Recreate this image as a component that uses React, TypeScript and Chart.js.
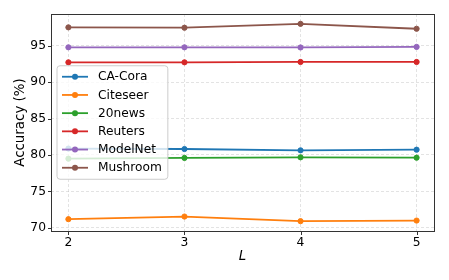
import React, { useEffect, useRef } from "react";
import { Chart, registerables } from "chart.js";

Chart.register(...registerables);

const lValues = [2, 3, 4, 5];
const seriesNames = ["CA-Cora", "Citeseer", "20news", "Reuters", "ModelNet", "Mushroom"];
const caCora = [80.88, 80.82, 80.64, 80.73];
const citeseer = [71.19, 71.55, 70.92, 71.0];
const news20 = [79.5, 79.6, 79.68, 79.63];
const reuters = [92.72, 92.72, 92.77, 92.77];
const modelNet = [94.78, 94.78, 94.76, 94.84];
const mushroom = [97.52, 97.47, 98.0, 97.33];
const yTickValues = [70, 75, 80, 85, 90, 95];
const xTickValues = [2, 3, 4, 5];
const colors = ["#1f77b4", "#ff7f0e", "#2ca02c", "#d62728", "#9467bd", "#8c564b"];

const allSeries = [caCora, citeseer, news20, reuters, modelNet, mushroom];
const FONT = "'DejaVu Sans', sans-serif";

function margins(vals: number[]) {
  const mn = Math.min(...vals);
  const mx = Math.max(...vals);
  const m = (mx - mn) * 0.05;
  return [mn - m, mx + m];
}

const framePlugin = {
  id: "framePlugin",
  afterDraw(chart: any) {
    const { ctx, chartArea: ca } = chart;
    const xs = chart.scales.x;
    const ys = chart.scales.y;
    ctx.save();
    ctx.strokeStyle = "#333";
    ctx.lineWidth = 1;
    ctx.strokeRect(Math.round(ca.left) + 0.5, Math.round(ca.top) + 0.5, Math.round(ca.right - ca.left), Math.round(ca.bottom - ca.top));
    ctx.beginPath();
    xTickValues.forEach((v) => {
      const px = Math.round(xs.getPixelForValue(v)) + 0.5;
      ctx.moveTo(px, Math.round(ca.bottom) + 0.5);
      ctx.lineTo(px, Math.round(ca.bottom) + 4);
    });
    yTickValues.forEach((v) => {
      const py = Math.round(ys.getPixelForValue(v)) + 0.5;
      ctx.moveTo(Math.round(ca.left) + 0.5, py);
      ctx.lineTo(Math.round(ca.left) - 3, py);
    });
    ctx.stroke();

    // legend
    ctx.font = `12.2px ${FONT}`;
    const labels = chart.data.datasets.map((d: any) => d.label);
    const maxW = Math.max(...labels.map((t: string) => ctx.measureText(t).width));
    const rowH = 18.2;
    const boxLeft = ca.left + 6;
    const boxH = 113.5;
    const boxTop = (ca.top + ca.bottom) / 2 - boxH / 2;
    const textX = boxLeft + 41;
    const boxW = textX + maxW + 6 - boxLeft;
    const r = 3;
    ctx.beginPath();
    ctx.moveTo(boxLeft + r, boxTop);
    ctx.arcTo(boxLeft + boxW, boxTop, boxLeft + boxW, boxTop + boxH, r);
    ctx.arcTo(boxLeft + boxW, boxTop + boxH, boxLeft, boxTop + boxH, r);
    ctx.arcTo(boxLeft, boxTop + boxH, boxLeft, boxTop, r);
    ctx.arcTo(boxLeft, boxTop, boxLeft + boxW, boxTop, r);
    ctx.closePath();
    ctx.fillStyle = "rgba(255,255,255,0.8)";
    ctx.fill();
    ctx.strokeStyle = "#cccccc";
    ctx.lineWidth = 1;
    ctx.stroke();

    chart.data.datasets.forEach((d: any, i: number) => {
      const cy = boxTop + 11 + i * rowH;
      ctx.strokeStyle = d.borderColor;
      ctx.lineWidth = 1.8;
      ctx.beginPath();
      ctx.moveTo(boxLeft + 5, cy);
      ctx.lineTo(boxLeft + 31, cy);
      ctx.stroke();
      ctx.fillStyle = d.borderColor;
      ctx.beginPath();
      ctx.arc(boxLeft + 18, cy, 3, 0, Math.PI * 2);
      ctx.fill();
      ctx.fillStyle = "#000";
      ctx.textBaseline = "middle";
      ctx.textAlign = "left";
      ctx.fillText(d.label, textX, cy + 0.5);
    });
    ctx.restore();
  },
};

export default function App() {
  const ref = useRef<HTMLCanvasElement | null>(null);
  useEffect(() => {
    if (!ref.current) return;
    const [ymin, ymax] = margins(allSeries.flat());
    const [xmin, xmax] = margins(lValues);
    const grid = {
      display: true,
      color: "rgba(176,176,176,0.45)",
      lineWidth: 0.8,
      drawTicks: false,
      drawOnChartArea: true,
    };
    const chart = new Chart(ref.current, {
      type: "line",
      data: {
        datasets: allSeries.map((s, i) => ({
          label: seriesNames[i],
          data: s.map((v, j) => ({ x: lValues[j], y: v })),
          borderColor: colors[i],
          backgroundColor: colors[i],
          pointBackgroundColor: colors[i],
          pointBorderColor: colors[i],
          borderWidth: 1.8,
          pointRadius: 2.6,
          pointBorderWidth: 1,
          fill: false,
          tension: 0,
          order: allSeries.length - i,
        })),
      },
      options: {
        animation: false,
        responsive: false,
        layout: { padding: { top: 14, right: 15, left: 0, bottom: 0 } },
        plugins: { legend: { display: false }, tooltip: { enabled: false } },
        scales: {
          x: {
            type: "linear",
            min: xmin,
            max: xmax,
            grid: { ...grid },
            border: { display: false, dash: [3, 2] },
            afterBuildTicks: (s: any) => {
              s.ticks = xTickValues.map((v) => ({ value: v }));
            },
            afterFit: (s: any) => {
              s.height = 49;
            },
            ticks: {
              padding: 4,
              color: "#000",
              font: { family: FONT, size: 12.3 },
              maxRotation: 0,
              callback: (v: any) => String(v),
            },
            title: {
              display: true,
              text: "L",
              color: "#000",
              font: { family: FONT, size: 13.4, style: "italic" },
              padding: { top: 0, bottom: 15 },
            },
          },
          y: {
            type: "linear",
            min: ymin,
            max: ymax,
            grid: { ...grid },
            border: { display: false, dash: [3, 2] },
            afterBuildTicks: (s: any) => {
              s.ticks = yTickValues.map((v) => ({ value: v }));
            },
            afterFit: (s: any) => {
              s.width = 51;
            },
            ticks: {
              padding: 5,
              color: "#000",
              font: { family: FONT, size: 12.3 },
              callback: (v: any) => String(v),
            },
            title: {
              display: true,
              text: "Accuracy (%)",
              color: "#000",
              font: { family: FONT, size: 13.4 },
              padding: { top: 12, bottom: 0 },
            },
          },
        },
      },
      plugins: [framePlugin],
    } as any);
    return () => chart.destroy();
  }, []);
  return (
    <div style={{ position: "absolute", left: 0, top: 0, width: 449, height: 280, background: "#fff" }}>
      <canvas ref={ref} width={449} height={280} style={{ display: "block", width: 449, height: 280 }} />
    </div>
  );
}
